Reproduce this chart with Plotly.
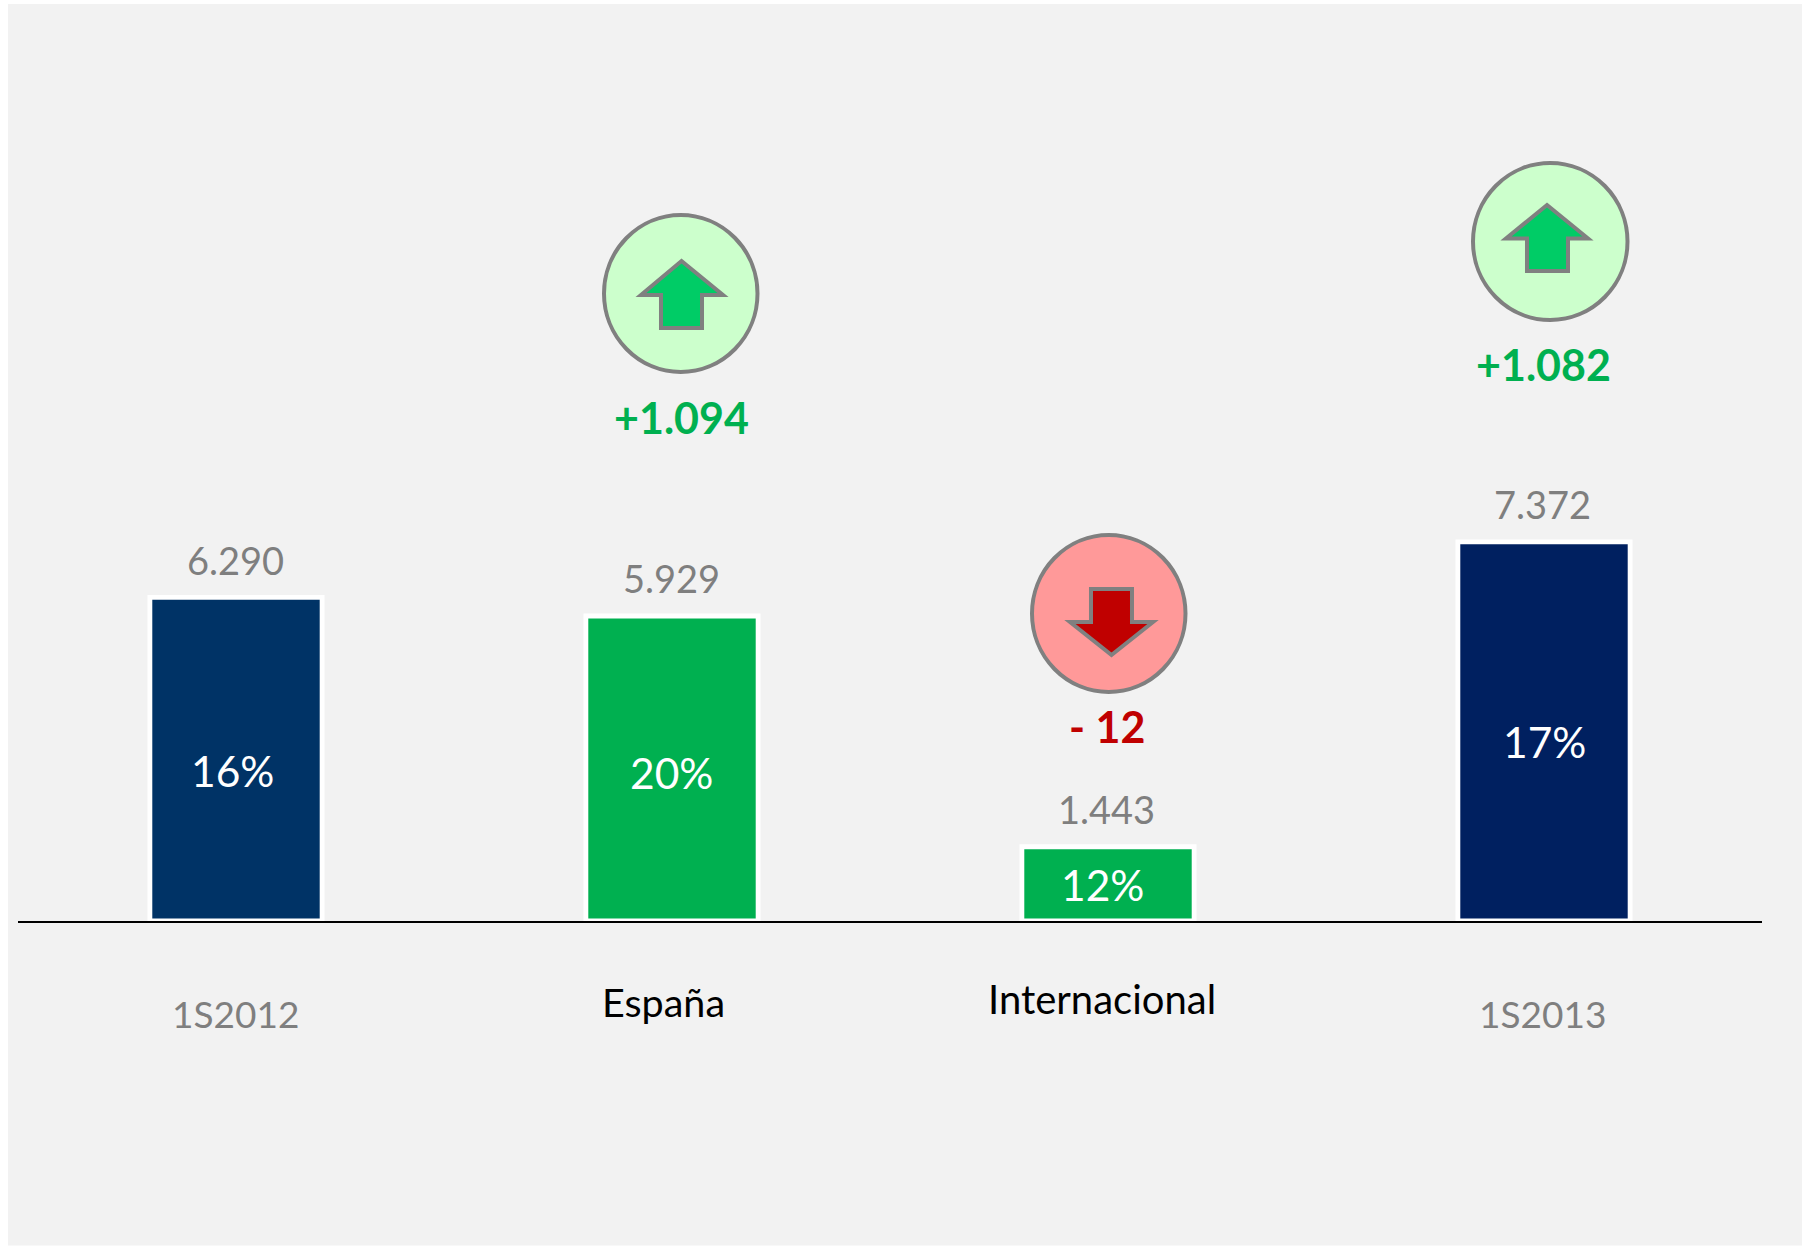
import plotly.graph_objects as go

# ---- data ----
categories = ["1S2012", "España", "Internacional", "1S2013"]
values = [6290, 5929, 1443, 7372]
value_labels = ["6.290", "5.929", "1.443", "7.372"]
share_labels = ["16%", "20%", "12%", "17%"]
delta_labels = ["+1.094", "- 12", "+1.082"]

# ---- style ----
bar_colors = ["#003366", "#00B050", "#00B050", "#002060"]
cat_colors = ["#7F7F7F", "#000000", "#000000", "#7F7F7F"]
cat_sizes = [37, 39.5, 40, 37]
delta_colors = ["#00B050", "#C00000", "#00B050"]
FONT = "Lato"
W, H = 1802, 1246
PL, PR, PT, PB = 18, 1762, 4, 921          # plot area in pixels
UNITS_PER_PX = 19.44


def px(x):
    return (x - PL) / (PR - PL)


def py(y):
    return (PB - y) / (PB - PT)


def label(text, x, y, size, color, bold=False):
    return dict(
        text=f"<b>{text}</b>" if bold else text,
        xref="paper", yref="paper", x=px(x), y=py(y),
        xanchor="center", yanchor="middle", showarrow=False,
        font=dict(family=FONT, size=size, color=color),
    )


def ring(x0, x1, y0, y1, fill):
    return dict(
        type="circle", xref="paper", yref="paper", layer="above",
        x0=px(x0), x1=px(x1), y0=py(y0), y1=py(y1),
        fillcolor=fill, line=dict(color="#808080", width=4),
    )


def arrow(points, fill):
    d = "M " + " L ".join(f"{px(x):.5f},{py(y):.5f}" for x, y in points) + " Z"
    return dict(
        type="path", path=d, xref="paper", yref="paper", layer="above",
        fillcolor=fill, line=dict(color="#808080", width=4),
    )


def up_arrow(tip_x, tip_y, wing_y, left, right, s0, s1, bottom, fill):
    return arrow([(tip_x, tip_y), (right, wing_y), (s1, wing_y), (s1, bottom),
                  (s0, bottom), (s0, wing_y), (left, wing_y)], fill)


fig = go.Figure(
    go.Bar(
        x=categories, y=values, width=0.395,
        marker=dict(color=bar_colors, line=dict(color="#FFFFFF", width=4.8)),
        cliponaxis=False, hoverinfo="skip",
    )
)

shapes = [
    dict(type="rect", xref="paper", yref="paper", layer="below",
         x0=px(8), x1=px(1802), y0=py(4), y1=py(1245.5),
         fillcolor="#F2F2F2", line=dict(width=0)),
    ring(604, 757.5, 215, 372, "#CCFFCC"),
    ring(1032, 1185.5, 535, 692, "#FF9999"),
    ring(1473, 1627.5, 163, 320, "#CCFFCC"),
    up_arrow(681.5, 261, 295, 641, 723, 661, 702, 328, "#00CC66"),
    up_arrow(1111.5, 655, 622, 1070, 1153, 1091, 1132, 589, "#C00000"),
    up_arrow(1547, 205, 238.5, 1506, 1588, 1527, 1568, 271, "#00CC66"),
]

val_pos = [(235.5, 560), (671, 577.5), (1106, 809), (1542, 504)]
pct_pos = [(232.5, 770), (671.5, 772), (1102.5, 884), (1544.5, 741)]
cat_pos = [(235, 1013.5), (663, 1001.5), (1102, 999), (1542, 1013.5)]
delta_pos = [(681.5, 418), (1107, 726), (1543, 364)]

annotations = []
for t, (x, y) in zip(value_labels, val_pos):
    annotations.append(label(t, x, y, 38, "#7F7F7F"))
for t, (x, y) in zip(share_labels, pct_pos):
    annotations.append(label(t, x, y, 42.5, "#FFFFFF"))
for t, (x, y), c, s in zip(categories, cat_pos, cat_colors, cat_sizes):
    annotations.append(label(t, x, y, s, c))
for t, (x, y), c in zip(delta_labels, delta_pos, delta_colors):
    annotations.append(label(t, x, y, 43, c, bold=True))

fig.update_layout(
    width=W, height=H,
    margin=dict(l=PL, r=W - PR, t=PT, b=H - PB, pad=0, autoexpand=False),
    paper_bgcolor="#FFFFFF", plot_bgcolor="rgba(0,0,0,0)",
    showlegend=False, shapes=shapes, annotations=annotations,
    xaxis=dict(type="category", showticklabels=False, ticks="", showgrid=False,
               showline=True, linecolor="#000000", linewidth=2,
               layer="below traces", zeroline=False),
    yaxis=dict(visible=False, showgrid=False, zeroline=False,
               range=[0, (PB - PT) * UNITS_PER_PX]),
)

fig.write_html("out.html", config={"displayModeBar": False},
               post_script="document.body.style.margin='0';document.body.style.overflow='hidden';")
